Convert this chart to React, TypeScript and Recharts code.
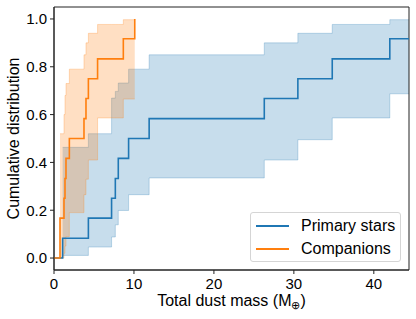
import React from 'react';
import { ComposedChart, Area, Line, XAxis, YAxis, Legend, ReferenceArea } from 'recharts';

// Primary stars: step CDF and its confidence band
const primaryMass = [0, 1.08, 4.3, 7.2, 7.67, 8.04, 9.33, 11.9, 26.3, 30.5, 34.8, 42.0, 48.0];
const primaryCdf = [0, 0.083, 0.167, 0.25, 0.333, 0.417, 0.5, 0.583, 0.667, 0.75, 0.833, 0.917, 1.0];
const primaryLow = [null, 0.011, 0.046, 0.088, 0.139, 0.199, 0.265, 0.335, 0.41, 0.495, 0.586, 0.687, 0.75];
const primaryHigh = [null, 0.463, 0.52, 0.669, 0.697, 0.732, 0.79, 0.85, 0.9, 0.94, 0.977, 0.997, 1.0];

// Companions
const companionMass = [0, 0.75, 1.25, 1.375, 1.5, 1.92, 3.75, 4.0, 4.3, 5.45, 8.67, 10.1];
const companionCdf = [0, 0.167, 0.25, 0.333, 0.417, 0.5, 0.583, 0.667, 0.75, 0.833, 0.917, 1.0];
const companionLow = [null, 0.0, 0.02, 0.05, 0.09, 0.19, 0.265, 0.33, 0.41, 0.586, 0.665, 0.665];
const companionHigh = [null, 0.52, 0.6, 0.68, 0.73, 0.79, 0.85, 0.9, 0.94, 0.977, 0.997, 1.0];

const xTicks = [0, 10, 20, 30, 40];
const yTicks = [0, 0.2, 0.4, 0.6, 0.8, 1.0];

const BLUE = '#1f77b4';
const ORANGE = '#ff7f0e';
const FONT = '"Liberation Sans", Arial, sans-serif';

// value of a step series at x (undefined outside its range)
const stepAt = (xs: number[], ys: (number | null)[], x: number) => {
  if (x < xs[0] || x > xs[xs.length - 1]) return undefined;
  let i = 0;
  while (i + 1 < xs.length && xs[i + 1] <= x) i++;
  const v = ys[i];
  return v == null ? undefined : v;
};

const allMass = Array.from(new Set([...primaryMass, ...companionMass])).sort((a, b) => a - b);

const data = allMass.map((m) => {
  const pl = stepAt(primaryMass, primaryLow, m);
  const ph = stepAt(primaryMass, primaryHigh, m);
  const cl = stepAt(companionMass, companionLow, m);
  const ch = stepAt(companionMass, companionHigh, m);
  return {
    mass: m,
    primary: stepAt(primaryMass, primaryCdf, m),
    primaryBand: pl != null && ph != null ? [pl, ph] : undefined,
    companion: stepAt(companionMass, companionCdf, m),
    companionBand: cl != null && ch != null ? [cl, ch] : undefined,
  };
});

const legendItems = [
  { name: 'Primary stars', color: BLUE },
  { name: 'Companions', color: ORANGE },
];

const renderLegend = () => (
  <div
    style={{
      boxSizing: 'border-box',
      width: 151,
      height: 50,
      border: '1px solid #d5d5d5',
      borderRadius: 3,
      background: 'rgba(255,255,255,0.8)',
      padding: '1px 0 0 5px',
      fontFamily: FONT,
    }}
  >
    {legendItems.map((it) => (
      <div key={it.name} style={{ display: 'flex', alignItems: 'center', height: 23 }}>
        <span
          style={{ display: 'inline-block', width: 33, borderTop: `2px solid ${it.color}`, marginRight: 12 }}
        />
        <span style={{ fontSize: 16, color: '#000', lineHeight: '23px' }}>{it.name}</span>
      </div>
    ))}
  </div>
);

const XLabel = () => (
  <text x={231.5} y={306} textAnchor="middle" fontSize={16} fill="#000" fontFamily={FONT}>
    Total dust mass (M
    <tspan fontSize={10.5} dy={3}>⊕</tspan>
    <tspan dy={-3}>)</tspan>
  </text>
);

const YLabel = () => (
  <text
    x={19}
    y={138.5}
    transform="rotate(-90, 19, 138.5)"
    textAnchor="middle"
    fontSize={16}
    fill="#000"
    fontFamily={FONT}
  >
    Cumulative distribution
  </text>
);

const App: React.FC = () => {
  const tick = { fontSize: 15, fill: '#000', fontFamily: FONT };
  return (
    <div style={{ position: 'absolute', left: 0, top: 0, width: 416, height: 319, background: '#fff', fontFamily: FONT }}>
      <ComposedChart width={416} height={319} data={data} margin={{ top: 7, right: 7, left: 0, bottom: 0 }}>
        <XAxis
          dataKey="mass"
          type="number"
          domain={[0, 44.4]}
          allowDataOverflow
          ticks={xTicks}
          interval={0}
          height={49}
          tick={tick}
          tickSize={4}
          tickMargin={4}
          stroke="#222"
          label={<XLabel />}
        />
        <YAxis
          type="number"
          domain={[-0.05, 1.05]}
          allowDataOverflow
          ticks={yTicks}
          interval={0}
          width={54}
          tick={tick}
          tickSize={4}
          tickMargin={3}
          tickFormatter={(v: number) => v.toFixed(1)}
          stroke="#222"
          label={<YLabel />}
        />
        <Area
          dataKey="primaryBand"
          type="stepAfter"
          fill={BLUE}
          fillOpacity={0.25}
          stroke={BLUE}
          strokeOpacity={0.25}
          strokeWidth={1}
          isAnimationActive={false}
          legendType="none"
        />
        <Line
          dataKey="primary"
          name="Primary stars"
          type="stepAfter"
          stroke={BLUE}
          strokeWidth={1.6}
          dot={false}
          activeDot={false}
          isAnimationActive={false}
        />
        <Area
          dataKey="companionBand"
          type="stepAfter"
          fill={ORANGE}
          fillOpacity={0.25}
          stroke={ORANGE}
          strokeOpacity={0.25}
          strokeWidth={1}
          isAnimationActive={false}
          legendType="none"
        />
        <Line
          dataKey="companion"
          name="Companions"
          type="stepAfter"
          stroke={ORANGE}
          strokeWidth={1.6}
          dot={false}
          activeDot={false}
          isAnimationActive={false}
        />
        <ReferenceArea x1={0} x2={44.4} y1={-0.05} y2={1.05} fill="none" fillOpacity={0} stroke="#222" strokeWidth={1} />
        <Legend
          layout="horizontal"
          verticalAlign="middle"
          align="center"
          content={renderLegend}
          wrapperStyle={{ left: 250, top: 212, width: 151, height: 50 }}
        />
      </ComposedChart>
    </div>
  );
};

export default App;
